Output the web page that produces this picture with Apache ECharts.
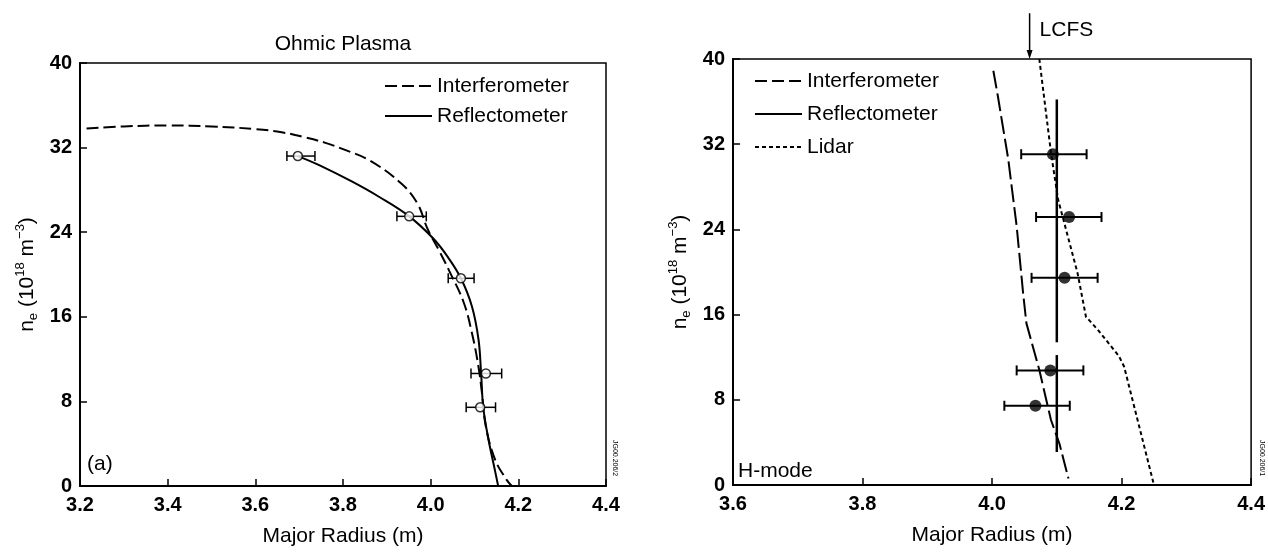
<!DOCTYPE html>
<html>
<head>
<meta charset="utf-8">
<title>Ohmic / H-mode density profiles</title>
<script src="https://cdn.jsdelivr.net/npm/echarts@6.0.0/dist/echarts.min.js"></script>
<style>
html, body { margin: 0; padding: 0; background: #fff; }
#main { width: 1268px; height: 552px; }
</style>
</head>
<body>
<div id="main"></div>
<script>
// tick values
var ohmicXTicks = [3.2, 3.4, 3.6, 3.8, 4.0, 4.2, 4.4];
var hmodeXTicks = [3.6, 3.8, 4.0, 4.2, 4.4];
var neTicks = [0, 8, 16, 24, 32, 40];

// (a) Ohmic plasma, [R, ne]
var ohmicInterf = [[3.215,33.8],[3.3,34.0],[3.4,34.1],[3.5,34.0],[3.6,33.75],[3.66,33.45],[3.71,33.0],
  [3.76,32.45],[3.8,31.85],[3.86,30.8],[3.933,28.6],[3.97,26.7],[3.993,24.3],[4.02,22.2],[4.044,20.2],[4.075,17.4],
  [4.094,14.5],[4.109,11.3],[4.117,8.8],[4.126,5.6],[4.147,2.5],[4.173,0.6],[4.185,0]];
var ohmicRefl = [[3.697,31.2],[3.748,30.3],[3.82,28.8],[3.88,27.4],[3.951,25.5],[4.006,23.4],[4.04,21.6],
  [4.069,19.64],[4.094,17.0],[4.109,13.9],[4.115,10.7],[4.12,7.44],[4.132,4.37],[4.145,1.8],[4.154,0]];
// [R, ne, R low, R high]
var ohmicPts = [[3.697,31.2,3.672,3.736],[3.951,25.5,3.923,3.99],[4.069,19.64,4.040,4.099],
  [4.126,10.64,4.092,4.162],[4.113,7.44,4.081,4.148]];

// H-mode
var hInterf = [[4.002,38.9],[4.009,36.5],[4.025,30.6],[4.038,24.3],[4.048,18.0],[4.053,15.2],
  [4.073,10.8],[4.091,6.1],[4.104,3.9],[4.118,0.6]];
var hLidar = [[4.073,40],[4.091,31.2],[4.102,26.8],[4.132,19.9],[4.145,15.8],[4.163,14.6],
  [4.196,12.1],[4.204,11.1],[4.25,0]];
var hReflA = [[4.1,36.2],[4.1,13.4]];
var hReflB = [[4.1,12.2],[4.1,3.1]];
var hPts = [[4.094,31.06,4.045,4.146],[4.119,25.16,4.068,4.169],[4.112,19.45,4.061,4.163],
  [4.09,10.76,4.038,4.141],[4.067,7.44,4.019,4.12]];
// LCFS arrow: [R, ne start, ne end]
var lcfs = [[4.058, 44.3, 40]];

var FONT = "'Liberation Sans', Arial, Helvetica, sans-serif";

function step(t) { return Math.round((t[1] - t[0]) * 1000) / 1000; }

function xAxis(gi, ticks) {
  return {
    type: 'value', gridIndex: gi,
    min: ticks[0], max: ticks[ticks.length - 1], interval: step(ticks),
    name: 'Major Radius (m)', nameLocation: 'middle', nameGap: 40,
    nameTextStyle: { fontFamily: FONT, fontSize: 21, color: '#000' },
    axisLine: { lineStyle: { color: '#000', width: 2 } },
    axisTick: { inside: true, length: 7, lineStyle: { color: '#000', width: 1.5 } },
    axisLabel: { margin: 9, fontFamily: FONT, fontSize: 20, fontWeight: 'bold', color: '#000',
      formatter: function (v) { return v.toFixed(1); } },
    splitLine: { show: false }
  };
}

function yAxis(gi) {
  return {
    type: 'value', gridIndex: gi,
    min: neTicks[0], max: neTicks[neTicks.length - 1], interval: step(neTicks),
    name: 'n{sub|e} (10{sup|18} m{sup|\u22123})', nameLocation: 'middle', nameRotate: 90, nameGap: 40,
    nameTextStyle: {
      fontFamily: FONT, fontSize: 21, color: '#000', lineHeight: 26,
      rich: {
        sub: { fontFamily: FONT, fontSize: 13, color: '#000', verticalAlign: 'bottom', lineHeight: 26 },
        sup: { fontFamily: FONT, fontSize: 13, color: '#000', verticalAlign: 'top', lineHeight: 26 }
      }
    },
    axisLine: { lineStyle: { color: '#000', width: 2 } },
    axisTick: { inside: true, length: 7, lineStyle: { color: '#000', width: 1.5 } },
    axisLabel: { margin: 8, fontFamily: FONT, fontSize: 20, fontWeight: 'bold', color: '#000' },
    splitLine: { show: false }
  };
}

function errorBars(lw) {
  return function (params, api) {
    var y = api.value(1);
    var a = api.coord([api.value(2), y]);
    var b = api.coord([api.value(3), y]);
    var st = { stroke: '#000', lineWidth: lw };
    return { type: 'group', children: [
      { type: 'line', shape: { x1: a[0], y1: a[1], x2: b[0], y2: b[1] }, style: st },
      { type: 'line', shape: { x1: a[0], y1: a[1] - 5, x2: a[0], y2: a[1] + 5 }, style: st },
      { type: 'line', shape: { x1: b[0], y1: b[1] - 5, x2: b[0], y2: b[1] + 5 }, style: st }
    ] };
  };
}

function lineSeries(name, gi, data, dash, w, smooth) {
  return {
    name: name, type: 'line', xAxisIndex: gi, yAxisIndex: gi, data: data,
    symbol: 'none', showSymbol: false, smooth: smooth || false, clip: false,
    lineStyle: { color: '#000', width: w || 2, type: dash || 'solid' },
    itemStyle: { color: '#000' }
  };
}

var chart = echarts.init(document.getElementById('main'));
var txt = { fontFamily: FONT, fontSize: 21, fontWeight: 'normal', color: '#000' };
var legendText = { fontFamily: FONT, fontSize: 21, color: '#000', lineHeight: 22 };

chart.setOption({
  animation: false,
  title: [
    { text: 'Ohmic Plasma', left: 343, top: 34, textAlign: 'center', padding: 0, textStyle: txt },
    { text: '(a)', left: 87, top: 454, padding: 0, textStyle: txt },
    { text: 'H-mode', left: 738, top: 461, padding: 0, textStyle: txt }
  ],
  legend: [
    { orient: 'vertical', left: 379, top: 70, itemWidth: 47, itemHeight: 14, itemGap: 8,
      data: ['Interferometer', 'Reflectometer'], selectedMode: false,
      itemStyle: { opacity: 0 }, textStyle: legendText },
    { orient: 'vertical', left: 749, top: 65, itemWidth: 47, itemHeight: 14, itemGap: 11,
      data: ['Interferometer', 'Reflectometer', 'Lidar'], selectedMode: false,
      itemStyle: { opacity: 0 }, textStyle: legendText }
  ],
  grid: [
    { left: 80, top: 63, width: 526, height: 423, show: true, borderColor: '#000', borderWidth: 1.5 },
    { left: 733, top: 59, width: 522, height: 426, show: true, borderColor: '#000', borderWidth: 1.5 }
  ],
  xAxis: [xAxis(0, ohmicXTicks), xAxis(1, hmodeXTicks)],
  yAxis: [yAxis(0), yAxis(1)],
  graphic: [
    { type: 'text', x: 618, y: 440, rotation: -Math.PI / 2, style: { text: 'JG00.206/2', fontSize: 7, fontFamily: FONT, fill: '#000' } },
    { type: 'text', x: 1265, y: 440, rotation: -Math.PI / 2, style: { text: 'JG00.206/1', fontSize: 7, fontFamily: FONT, fill: '#000' } }
  ],
  series: [
    lineSeries('Interferometer', 0, ohmicInterf, [12, 5], 2, 0.4),
    lineSeries('Reflectometer', 0, ohmicRefl, 'solid', 2, 0.4),
    { type: 'custom', xAxisIndex: 0, yAxisIndex: 0, data: ohmicPts, renderItem: errorBars(1.5),
      encode: { x: [0, 2, 3], y: 1 }, z: 3 },
    { type: 'scatter', xAxisIndex: 0, yAxisIndex: 0, data: ohmicPts, symbol: 'circle', symbolSize: 9,
      itemStyle: { color: '#fff', borderColor: '#000', borderWidth: 1.5 }, z: 4 },

    lineSeries('Interferometer', 1, hInterf, [18, 5], 2),
    lineSeries('Reflectometer', 1, hReflA, 'solid', 2.5),
    lineSeries('Reflectometer', 1, hReflB, 'solid', 2.5),
    lineSeries('Lidar', 1, hLidar, [4, 3], 2),
    { type: 'custom', xAxisIndex: 1, yAxisIndex: 1, data: hPts, renderItem: errorBars(2),
      encode: { x: [0, 2, 3], y: 1 }, z: 3 },
    { type: 'scatter', xAxisIndex: 1, yAxisIndex: 1, data: hPts, symbol: 'circle', symbolSize: 12,
      itemStyle: { color: '#000' }, z: 4 },
    { type: 'custom', xAxisIndex: 1, yAxisIndex: 1, data: lcfs, clip: false, z: 5,
      renderItem: function (params, api) {
        var top = api.coord([api.value(0), api.value(1)]);
        var end = api.coord([api.value(0), api.value(2)]);
        return { type: 'group', children: [
          { type: 'line', shape: { x1: top[0], y1: top[1], x2: end[0], y2: end[1] - 8 },
            style: { stroke: '#000', lineWidth: 1.5 } },
          { type: 'polygon', shape: { points: [[end[0] - 3, end[1] - 9], [end[0] + 3, end[1] - 9], [end[0], end[1]]] },
            style: { fill: '#000' } },
          { type: 'text', x: top[0] + 10, y: (top[1] + end[1]) / 2 - 6,
            style: { text: 'LCFS', fontFamily: FONT, fontSize: 21, fill: '#000', verticalAlign: 'middle' } }
        ] };
      } }
  ]
});
</script>
</body>
</html>
